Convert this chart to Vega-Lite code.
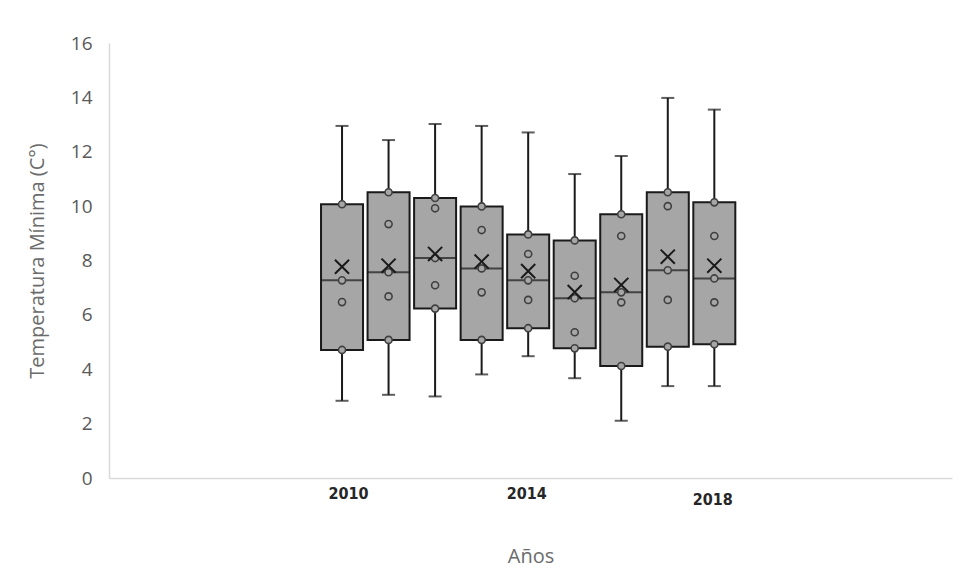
{
  "$schema": "https://vega.github.io/schema/vega-lite/v6.json",
  "width": 843,
  "height": 435,
  "autosize": {"type": "none"},
  "padding": {"left": 109, "top": 43, "right": 14, "bottom": 102},
  "background": "white",
  "config": {"view": {"stroke": null}},
  "datasets": {
    "boxes": [
      {"year": 2010, "min": 2.84, "q1": 4.71, "median": 7.27, "q3": 10.07, "max": 12.95, "mean": 7.77},
      {"year": 2011, "min": 3.06, "q1": 5.08, "median": 7.57, "q3": 10.51, "max": 12.43, "mean": 7.81},
      {"year": 2012, "min": 3.00, "q1": 6.23, "median": 8.09, "q3": 10.30, "max": 13.02, "mean": 8.24},
      {"year": 2013, "min": 3.81, "q1": 5.08, "median": 7.71, "q3": 9.99, "max": 12.95, "mean": 7.96},
      {"year": 2014, "min": 4.48, "q1": 5.51, "median": 7.27, "q3": 8.96, "max": 12.71, "mean": 7.61},
      {"year": 2015, "min": 3.67, "q1": 4.77, "median": 6.61, "q3": 8.74, "max": 11.18, "mean": 6.84},
      {"year": 2016, "min": 2.11, "q1": 4.12, "median": 6.83, "q3": 9.70, "max": 11.84, "mean": 7.10},
      {"year": 2017, "min": 3.38, "q1": 4.83, "median": 7.64, "q3": 10.51, "max": 13.98, "mean": 8.14},
      {"year": 2018, "min": 3.38, "q1": 4.92, "median": 7.34, "q3": 10.14, "max": 13.55, "mean": 7.81}
    ],
    "points": [
      {"year": 2010, "value": 10.07}, {"year": 2010, "value": 7.27}, {"year": 2010, "value": 6.47}, {"year": 2010, "value": 4.71},
      {"year": 2011, "value": 10.51}, {"year": 2011, "value": 9.34}, {"year": 2011, "value": 7.57}, {"year": 2011, "value": 6.68}, {"year": 2011, "value": 5.08},
      {"year": 2012, "value": 10.30}, {"year": 2012, "value": 9.92}, {"year": 2012, "value": 8.09}, {"year": 2012, "value": 7.09}, {"year": 2012, "value": 6.23},
      {"year": 2013, "value": 9.99}, {"year": 2013, "value": 9.12}, {"year": 2013, "value": 7.71}, {"year": 2013, "value": 6.83}, {"year": 2013, "value": 5.08},
      {"year": 2014, "value": 8.96}, {"year": 2014, "value": 8.24}, {"year": 2014, "value": 7.27}, {"year": 2014, "value": 6.55}, {"year": 2014, "value": 5.51},
      {"year": 2015, "value": 8.74}, {"year": 2015, "value": 7.44}, {"year": 2015, "value": 6.61}, {"year": 2015, "value": 5.36}, {"year": 2015, "value": 4.77},
      {"year": 2016, "value": 9.70}, {"year": 2016, "value": 8.90}, {"year": 2016, "value": 6.83}, {"year": 2016, "value": 6.46}, {"year": 2016, "value": 4.12},
      {"year": 2017, "value": 10.51}, {"year": 2017, "value": 10.00}, {"year": 2017, "value": 7.64}, {"year": 2017, "value": 6.55}, {"year": 2017, "value": 4.83},
      {"year": 2018, "value": 10.14}, {"year": 2018, "value": 8.90}, {"year": 2018, "value": 7.34}, {"year": 2018, "value": 6.46}, {"year": 2018, "value": 4.92}
    ]
  },
  "encoding": {
    "x": {
      "field": "year",
      "type": "quantitative",
      "scale": {"domain": [2005.1, 2023.0], "nice": false, "zero": false},
      "axis": {
        "title": "Años",
        "values": [2010, 2014, 2018],
        "format": "d",
        "ticks": false,
        "tickSize": 0,
        "grid": false,
        "domainColor": "#d9d9d9",
        "domainWidth": 1.5,
        "labelFont": "'Liberation Sans Narrow', 'DejaVu Sans Condensed', Roboto, sans-serif",
        "labelFontWeight": "bold",
        "labelFontSize": 16,
        "labelColor": "#262626",
        "labelBaseline": "middle",
        "labelFlush": false,
        "labelPadding": {"condition": {"test": "datum.value == 2018", "value": 21}, "value": 15},
        "labelOffset": {"condition": {"test": "datum.value == 2010", "value": 6}, "value": -2},
        "titleFont": "Open Sans",
        "titleFontSize": 20,
        "titleFontWeight": "normal",
        "titleColor": "#6b6b6b",
        "titleBaseline": "middle",
        "titleY": 78
      }
    }
  },
  "layer": [
    {
      "data": {"name": "boxes"},
      "mark": {"type": "rule", "color": "#1a1a1a", "strokeWidth": 2},
      "encoding": {
        "y": {"field": "min", "type": "quantitative", "scale": {"domain": [0, 16], "nice": false}, "axis": {
          "title": "Temperatura Mínima (C°)",
          "values": [0, 2, 4, 6, 8, 10, 12, 14, 16],
          "ticks": false,
          "tickSize": 0,
          "grid": false,
          "domainColor": "#d9d9d9",
          "domainWidth": 1.5,
          "labelFont": "Open Sans",
          "labelFontSize": 19,
          "labelColor": "#595959",
          "labelPadding": 17,
          "titleFont": "Open Sans",
          "titleFontSize": 20,
          "titleFontWeight": "normal",
          "titleColor": "#6b6b6b",
          "titleX": -72,
          "titleY": 217.5,
          "titleBaseline": "middle"
        }},
        "y2": {"field": "max"}
      }
    },
    {
      "data": {"name": "boxes"},
      "mark": {"type": "tick", "orient": "horizontal", "size": 13, "thickness": 2, "color": "#1a1a1a"},
      "encoding": {"y": {"field": "max", "type": "quantitative"}}
    },
    {
      "data": {"name": "boxes"},
      "mark": {"type": "tick", "orient": "horizontal", "size": 13, "thickness": 2, "color": "#1a1a1a"},
      "encoding": {"y": {"field": "min", "type": "quantitative"}}
    },
    {
      "data": {"name": "boxes"},
      "mark": {"type": "bar", "size": 42, "fill": "#a6a6a6", "stroke": "#1a1a1a", "strokeWidth": 2},
      "encoding": {
        "y": {"field": "q1", "type": "quantitative"},
        "y2": {"field": "q3"}
      }
    },
    {
      "data": {"name": "boxes"},
      "mark": {"type": "tick", "orient": "horizontal", "size": 42, "thickness": 2, "color": "#1a1a1a"},
      "encoding": {"y": {"field": "median", "type": "quantitative"}}
    },
    {
      "data": {"name": "points"},
      "mark": {"type": "point", "shape": "circle", "filled": false, "fill": "#a6a6a6", "fillOpacity": 1, "stroke": "#404040", "strokeWidth": 1.6, "size": 50, "opacity": 1},
      "encoding": {"y": {"field": "value", "type": "quantitative"}}
    },
    {
      "data": {"name": "boxes"},
      "mark": {"type": "point", "shape": "M-1,-1L1,1M1,-1L-1,1", "filled": false, "stroke": "#1a1a1a", "strokeWidth": 2, "size": 200, "opacity": 1},
      "encoding": {"y": {"field": "mean", "type": "quantitative"}}
    }
  ]
}
